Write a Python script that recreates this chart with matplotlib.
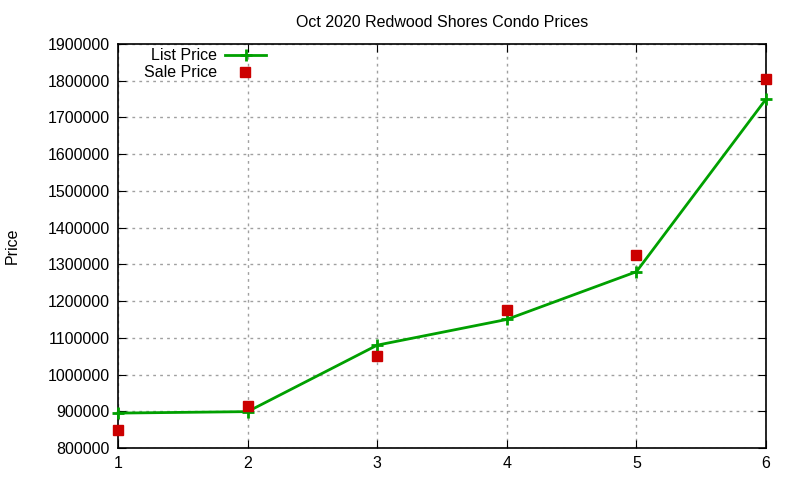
#!/usr/bin/env python3
"""Oct 2020 Redwood Shores condo prices, gnuplot-style line and points."""

import matplotlib

matplotlib.use("Agg")
import matplotlib.pyplot as plt

units = [1, 2, 3, 4, 5, 6]
list_price = [895000, 899000, 1080000, 1150000, 1280000, 1750000]
sale_price = [850000, 913000, 1050000, 1175000, 1325000, 1805000]
y_ticks = list(range(800000, 1900001, 100000))

GREEN = "#00a000"
RED = "#cc0000"

plt.rcParams["font.family"] = ["Liberation Sans", "DejaVu Sans"]

fig = plt.figure(figsize=(8.0, 4.8), dpi=100)
ax = fig.add_axes([0.1475, 0.0667, 0.81, 0.8416])

ax.plot(units, list_price, color=GREEN, linewidth=2, marker="+",
        markersize=9, markeredgewidth=2, zorder=3, clip_on=False)
ax.plot(units, sale_price, linestyle="none", color=RED, marker="s",
        markersize=7, zorder=4, clip_on=False)

ax.set_xlim(1, 6)
ax.set_ylim(800000, 1900000)
ax.set_xticks(units)
ax.set_yticks(y_ticks)
ax.set_yticklabels([str(v) for v in y_ticks])
ax.tick_params(direction="in", top=True, right=True, length=6, labelsize=11.5,
               pad=6, color="black")
ax.grid(True, color="#a0a0a0", linestyle=(0, (2, 3)), linewidth=1)
for spine in ax.spines.values():
    spine.set_linewidth(1.2)

ax.set_title("Oct 2020 Redwood Shores Condo Prices", fontsize=11.5, pad=12)
fig.text(12 / 800, 1 - 246 / 480, "Price", rotation=90, fontsize=11.5,
         ha="center", va="center")

# gnuplot-style key: right-aligned labels, sample to the right
key_text_x = 0.1528
key_rows = [0.9728, 0.9307]
ax.text(key_text_x, key_rows[0], "List Price", transform=ax.transAxes,
        ha="right", va="center", fontsize=11.5)
ax.text(key_text_x, key_rows[1], "Sale Price", transform=ax.transAxes,
        ha="right", va="center", fontsize=11.5)
ax.plot([0.1651, 0.2284], [key_rows[0]] * 2, color=GREEN, linewidth=2,
        transform=ax.transAxes, clip_on=False)
ax.plot([0.1968], [key_rows[0]], color=GREEN, marker="+", markersize=9,
        markeredgewidth=2, transform=ax.transAxes, clip_on=False)
ax.plot([0.1960], [key_rows[1]], color=RED, marker="s", markersize=7,
        linestyle="none", transform=ax.transAxes, clip_on=False)

fig.savefig("out.png", dpi=100)
